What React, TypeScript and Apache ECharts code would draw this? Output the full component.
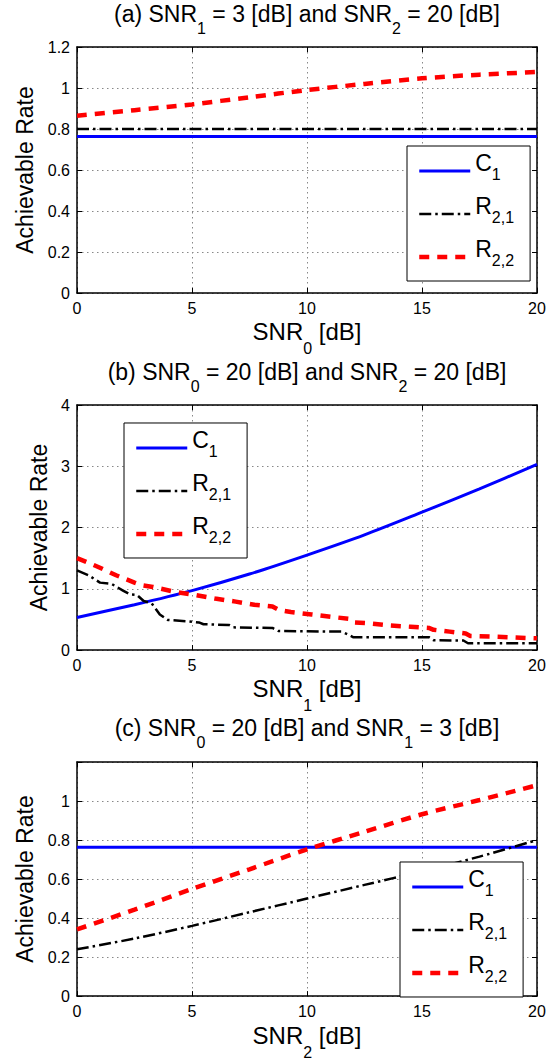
import React, { useEffect, useRef } from 'react';
import * as echarts from 'echarts';

const FONT = '"Liberation Sans", Arial, Helvetica, sans-serif';

// ---------- Data ----------
const xGrid = [0, 2.5, 5, 7.5, 10, 12.5, 15, 17.5, 20];

// (a) SNR1 = 3 dB, SNR2 = 20 dB, x = SNR0
const aC1 = [0.763, 0.763, 0.763, 0.763, 0.763, 0.763, 0.763, 0.763, 0.763];
const aR21 = [0.8, 0.8, 0.8, 0.8, 0.8, 0.8, 0.8, 0.8, 0.8];
const aR22 = [0.865, 0.892, 0.92, 0.955, 0.99, 1.02, 1.047, 1.065, 1.078];

// (b) SNR0 = 20 dB, SNR2 = 20 dB, x = SNR1
const bC1 = [0.53, 0.74, 0.97, 1.24, 1.55, 1.88, 2.25, 2.63, 3.03];
const bR21X = [0, 0.5, 1.0, 1.5, 2.0, 2.3, 2.6, 2.9, 3.25, 3.6, 3.95, 4.75, 5.3, 5.5, 6.6, 6.8, 8.5, 8.75, 11.5, 11.8, 12.0, 15.3, 15.5, 16.8, 17.0, 20];
const bR21 = [1.3, 1.22, 1.1, 1.08, 0.97, 0.91, 0.9, 0.8, 0.76, 0.58, 0.49, 0.47, 0.45, 0.42, 0.41, 0.37, 0.36, 0.31, 0.3, 0.25, 0.21, 0.21, 0.16, 0.155, 0.11, 0.11];
const bR22X = [0, 0.4, 0.9, 1.7, 2.5, 2.8, 3.3, 4.25, 5.1, 6.0, 6.9, 7.7, 8.5, 8.8, 9.3, 10.2, 11.1, 11.8, 12.0, 12.7, 13.6, 14.5, 15.3, 15.5, 16.2, 16.9, 17.1, 18.0, 19.0, 20];
const bR22 = [1.5, 1.44, 1.36, 1.22, 1.1, 1.06, 1.03, 0.95, 0.9, 0.84, 0.79, 0.74, 0.71, 0.65, 0.62, 0.58, 0.54, 0.51, 0.45, 0.435, 0.4, 0.38, 0.36, 0.33, 0.3, 0.27, 0.23, 0.22, 0.205, 0.19];

// (c) SNR0 = 20 dB, SNR1 = 3 dB, x = SNR2
const cC1 = [0.763, 0.763, 0.763, 0.763, 0.763, 0.763, 0.763, 0.763, 0.763];
const cR21 = [0.24, 0.295, 0.36, 0.43, 0.5, 0.57, 0.64, 0.715, 0.8];
const cR22 = [0.342, 0.443, 0.549, 0.65, 0.752, 0.842, 0.932, 1.005, 1.081];

const titles = [
  '(a) SNR{s|1} = 3 [dB] and SNR{s|2} = 20 [dB]',
  '(b) SNR{s|0} = 20 [dB] and SNR{s|2} = 20 [dB]',
  '(c) SNR{s|0} = 20 [dB] and SNR{s|1} = 3 [dB]',
];
const xNames = ['SNR{s|0} [dB]', 'SNR{s|1} [dB]', 'SNR{s|2} [dB]'];
const yName = 'Achievable Rate';
const seriesNames = ['C1', 'R21', 'R22'];
const legendLabels: Record<string, string> = { C1: 'C{s|1}', R21: 'R{s|2,1}', R22: 'R{s|2,2}' };
const yMaxes = [1.2, 4, 1.2];
const yIntervals = [0.2, 1, 0.2];

// ---------- Layout ----------
const grids = [
  { left: 77, width: 460, top: 47, height: 246 },
  { left: 77, width: 460, top: 405, height: 245 },
  { left: 77, width: 460, top: 762, height: 245 },
];
const titleTops = [-8, 350, 706];
const yNameGaps = [41, 26, 41];
const xNameGaps = [14, 14, 14];
const legendPos = [
  { left: 407, top: 146 },
  { left: 124, top: 423 },
  { left: 400, top: 862 },
];

const pairs = (xs: number[], ys: number[]) => xs.map((x, i) => [x, ys[i]]);

const styleFor: Record<string, any> = {
  C1: { color: '#0000ff', width: 3, type: 'solid' },
  R21: { color: '#000000', width: 2.5, type: [12, 4, 2.5, 4] },
  R22: { color: '#ff0000', width: 4.5, type: [10, 8] },
};

function subRich(size: number, shift: number) {
  return {
    s: {
      fontSize: size, padding: [2 * shift, 0, 0, 0],
      fontFamily: FONT, color: '#000', fontWeight: 'normal',
    },
  };
}

export default function App() {
  const ref = useRef<HTMLDivElement>(null);

  useEffect(() => {
    document.body.style.margin = '0';
    if (!ref.current) return;
    const chart = echarts.init(ref.current, undefined, { renderer: 'svg' });

    const panelData = [
      [pairs(xGrid, aC1), pairs(xGrid, aR21), pairs(xGrid, aR22)],
      [pairs(xGrid, bC1), pairs(bR21X, bR21), pairs(bR22X, bR22)],
      [pairs(xGrid, cC1), pairs(xGrid, cR21), pairs(xGrid, cR22)],
    ];
    const smoothFor = [
      [false, false, 0.3],
      [0.3, false, false],
      [false, 0.3, 0.3],
    ];

    const axisLine = { show: true, onZero: false, lineStyle: { color: '#000', width: 1.5 } };
    const axisTick = { show: true, inside: true, length: 5, lineStyle: { color: '#000', width: 1 } };
    const splitLine = { show: true, lineStyle: { color: '#888', width: 1, type: [1.5, 3.5] } };

    const xAxis: any[] = [];
    const yAxis: any[] = [];
    const series: any[] = [];
    const legend: any[] = [];
    const title: any[] = [];

    for (let g = 0; g < 3; g++) {
      xAxis.push({
        gridIndex: g, type: 'value', min: 0, max: 20, interval: 5, position: 'bottom',
        axisLine, axisTick,
        axisLabel: { color: '#000', fontSize: 16, fontFamily: FONT, margin: 7 },
        splitLine,
        name: xNames[g], nameLocation: 'middle', nameGap: xNameGaps[g],
        nameTextStyle: { color: '#000', fontSize: 24, fontFamily: FONT, lineHeight: 30, rich: subRich(16, 17) },
      });
      xAxis.push({
        gridIndex: g, type: 'value', min: 0, max: 20, interval: 5, position: 'top',
        axisLine, axisTick, axisLabel: { show: false }, splitLine: { show: false },
      });
      const maxV = yMaxes[g];
      yAxis.push({
        gridIndex: g, type: 'value', min: 0, max: maxV, interval: yIntervals[g], position: 'left',
        axisLine, axisTick,
        axisLabel: {
          color: '#000', fontSize: 16, fontFamily: FONT, margin: 7,
          formatter: (v: number) => (g === 2 && v > 1.1 ? '' : String(Math.round(v * 10) / 10)),
        },
        splitLine,
        name: yName, nameLocation: 'middle', nameGap: yNameGaps[g],
        nameTextStyle: { color: '#000', fontSize: 23, fontFamily: FONT },
      });
      yAxis.push({
        gridIndex: g, type: 'value', min: 0, max: maxV, interval: yIntervals[g], position: 'right',
        axisLine, axisTick, axisLabel: { show: false }, splitLine: { show: false },
      });

      seriesNames.forEach((n, k) => {
        const st = styleFor[n];
        series.push({
          type: 'line', name: n, xAxisIndex: 2 * g, yAxisIndex: 2 * g,
          data: panelData[g][k], symbol: 'none', showSymbol: false,
          smooth: smoothFor[g][k],
          lineStyle: { color: st.color, width: st.width, type: st.type },
          itemStyle: { color: st.color },
          z: 2 + k,
        });
      });

      legend.push({
        left: legendPos[g].left, top: legendPos[g].top, orient: 'vertical',
        data: seriesNames, selectedMode: false,
        itemWidth: 51, itemHeight: 14, itemGap: 1.6,
        padding: [4.3, 16, 3.3, 10],
        backgroundColor: '#fff', borderColor: '#000', borderWidth: 1, borderRadius: 0,
        formatter: (n: string) => legendLabels[n],
        lineStyle: { width: 'inherit' },
        itemStyle: { opacity: 0 },
        z: 10,
        textStyle: {
          color: '#000', fontSize: 23, fontFamily: FONT, lineHeight: 26,
          padding: [0, 0, 15.4, 0],
          rich: subRich(16, 11),
        },
      });

      title.push({
        text: titles[g], left: 307, top: titleTops[g], textAlign: 'center', padding: 0,
        textStyle: {
          color: '#000', fontSize: 23, fontFamily: FONT, fontWeight: 'normal', lineHeight: 44,
          rich: { s: { fontSize: 16, verticalAlign: 'bottom', fontFamily: FONT, color: '#000', fontWeight: 'normal' } },
        },
      });
    }

    chart.setOption({
      animation: false,
      backgroundColor: '#fff',
      title,
      grid: grids.map((gr) => ({ ...gr, containLabel: false, show: false })),
      xAxis, yAxis, series, legend,
    });

    return () => chart.dispose();
  }, []);

  return <div ref={ref} style={{ width: 559, height: 1061 }} />;
}
